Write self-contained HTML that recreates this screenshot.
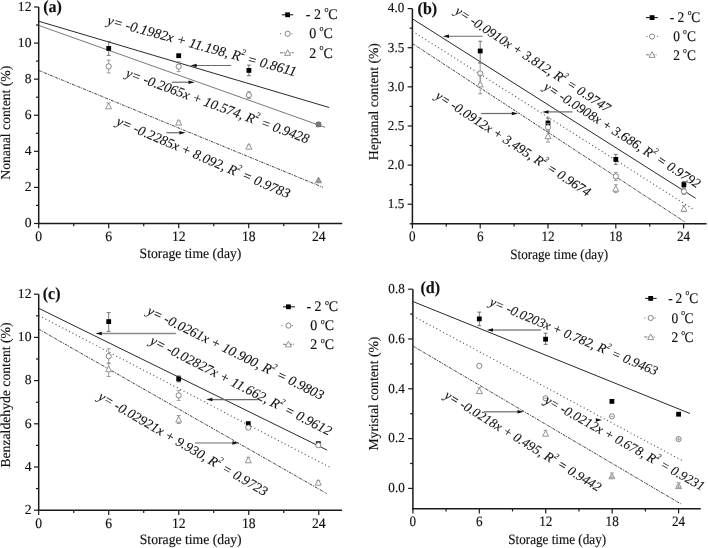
<!DOCTYPE html>
<html><head><meta charset="utf-8"><style>
html,body{margin:0;padding:0;background:#fff;}
body{width:708px;height:548px;overflow:hidden;}
svg{display:block;will-change:transform;}
text{font-family:"Liberation Serif", serif;fill:#111;text-rendering:geometricPrecision;stroke:#111;stroke-width:0.15px;}
.t{font-size:13.7px;}
.pl{font-size:16px;font-weight:bold;}
.eq{font-size:14px;font-style:italic;stroke-width:0.1px;}
.sup{font-size:8.5px;}
.lg{font-size:14px;}
.deg{font-size:9px;}
</style></head><body>
<svg width="708" height="548" viewBox="0 0 708 548">
<rect width="708" height="548" fill="#fff"/>
<line x1="38.7" y1="7" x2="38.7" y2="224.25" stroke="#1a1a1a" stroke-width="1.5"/>
<line x1="37.95" y1="223.5" x2="342.2" y2="223.5" stroke="#1a1a1a" stroke-width="1.5"/>
<line x1="38.7" y1="223.5" x2="38.7" y2="228.25" stroke="#1a1a1a" stroke-width="1.2"/>
<text transform="translate(38.7,241) scale(1.0,1.05)" text-anchor="middle" class="t">0</text>
<line x1="73.71" y1="223.5" x2="73.71" y2="226.25" stroke="#1a1a1a" stroke-width="1.2"/>
<line x1="108.72" y1="223.5" x2="108.72" y2="228.25" stroke="#1a1a1a" stroke-width="1.2"/>
<text transform="translate(108.72,241) scale(1.0,1.05)" text-anchor="middle" class="t">6</text>
<line x1="143.73" y1="223.5" x2="143.73" y2="226.25" stroke="#1a1a1a" stroke-width="1.2"/>
<line x1="178.74" y1="223.5" x2="178.74" y2="228.25" stroke="#1a1a1a" stroke-width="1.2"/>
<text transform="translate(178.74,241) scale(1.0,1.05)" text-anchor="middle" class="t">12</text>
<line x1="213.75" y1="223.5" x2="213.75" y2="226.25" stroke="#1a1a1a" stroke-width="1.2"/>
<line x1="248.76" y1="223.5" x2="248.76" y2="228.25" stroke="#1a1a1a" stroke-width="1.2"/>
<text transform="translate(248.76,241) scale(1.0,1.05)" text-anchor="middle" class="t">18</text>
<line x1="283.77" y1="223.5" x2="283.77" y2="226.25" stroke="#1a1a1a" stroke-width="1.2"/>
<line x1="318.78" y1="223.5" x2="318.78" y2="228.25" stroke="#1a1a1a" stroke-width="1.2"/>
<text transform="translate(318.78,241) scale(1.0,1.05)" text-anchor="middle" class="t">24</text>
<line x1="33.95" y1="223.48" x2="38.7" y2="223.48" stroke="#1a1a1a" stroke-width="1.2"/>
<text transform="translate(31.5,227.28) scale(1.0,1)" text-anchor="end" class="t">0</text>
<line x1="35.95" y1="205.44" x2="38.7" y2="205.44" stroke="#1a1a1a" stroke-width="1.2"/>
<line x1="33.95" y1="187.4" x2="38.7" y2="187.4" stroke="#1a1a1a" stroke-width="1.2"/>
<text transform="translate(31.5,191.2) scale(1.0,1)" text-anchor="end" class="t">2</text>
<line x1="35.95" y1="169.36" x2="38.7" y2="169.36" stroke="#1a1a1a" stroke-width="1.2"/>
<line x1="33.95" y1="151.32" x2="38.7" y2="151.32" stroke="#1a1a1a" stroke-width="1.2"/>
<text transform="translate(31.5,155.12) scale(1.0,1)" text-anchor="end" class="t">4</text>
<line x1="35.95" y1="133.28" x2="38.7" y2="133.28" stroke="#1a1a1a" stroke-width="1.2"/>
<line x1="33.95" y1="115.24" x2="38.7" y2="115.24" stroke="#1a1a1a" stroke-width="1.2"/>
<text transform="translate(31.5,119.04) scale(1.0,1)" text-anchor="end" class="t">6</text>
<line x1="35.95" y1="97.2" x2="38.7" y2="97.2" stroke="#1a1a1a" stroke-width="1.2"/>
<line x1="33.95" y1="79.16" x2="38.7" y2="79.16" stroke="#1a1a1a" stroke-width="1.2"/>
<text transform="translate(31.5,82.96) scale(1.0,1)" text-anchor="end" class="t">8</text>
<line x1="35.95" y1="61.12" x2="38.7" y2="61.12" stroke="#1a1a1a" stroke-width="1.2"/>
<line x1="33.95" y1="43.08" x2="38.7" y2="43.08" stroke="#1a1a1a" stroke-width="1.2"/>
<text transform="translate(31.5,46.88) scale(1.0,1)" text-anchor="end" class="t">10</text>
<line x1="35.95" y1="25.04" x2="38.7" y2="25.04" stroke="#1a1a1a" stroke-width="1.2"/>
<line x1="33.95" y1="7" x2="38.7" y2="7" stroke="#1a1a1a" stroke-width="1.2"/>
<text transform="translate(31.5,10.8) scale(1.0,1)" text-anchor="end" class="t">12</text>
<text transform="translate(190.5,258.2) scale(1.0,1.05)" text-anchor="middle" class="t">Storage time (day)</text>
<text transform="translate(10.1,122.7) rotate(-90)" text-anchor="middle" class="t">Nonanal content (%)</text>
<text transform="translate(43.2,12) scale(1,1.05)" class="pl">(a)</text>
<line x1="412.4" y1="8.6" x2="412.4" y2="224.55" stroke="#1a1a1a" stroke-width="1.5"/>
<line x1="411.65" y1="223.8" x2="706.6" y2="223.8" stroke="#1a1a1a" stroke-width="1.5"/>
<line x1="412.4" y1="223.8" x2="412.4" y2="228.55" stroke="#1a1a1a" stroke-width="1.2"/>
<text transform="translate(412.4,241.3) scale(0.96,1.05)" text-anchor="middle" class="t">0</text>
<line x1="446.3" y1="223.8" x2="446.3" y2="226.55" stroke="#1a1a1a" stroke-width="1.2"/>
<line x1="480.2" y1="223.8" x2="480.2" y2="228.55" stroke="#1a1a1a" stroke-width="1.2"/>
<text transform="translate(480.2,241.3) scale(0.96,1.05)" text-anchor="middle" class="t">6</text>
<line x1="514.1" y1="223.8" x2="514.1" y2="226.55" stroke="#1a1a1a" stroke-width="1.2"/>
<line x1="548" y1="223.8" x2="548" y2="228.55" stroke="#1a1a1a" stroke-width="1.2"/>
<text transform="translate(548,241.3) scale(0.96,1.05)" text-anchor="middle" class="t">12</text>
<line x1="581.9" y1="223.8" x2="581.9" y2="226.55" stroke="#1a1a1a" stroke-width="1.2"/>
<line x1="615.8" y1="223.8" x2="615.8" y2="228.55" stroke="#1a1a1a" stroke-width="1.2"/>
<text transform="translate(615.8,241.3) scale(0.96,1.05)" text-anchor="middle" class="t">18</text>
<line x1="649.7" y1="223.8" x2="649.7" y2="226.55" stroke="#1a1a1a" stroke-width="1.2"/>
<line x1="683.6" y1="223.8" x2="683.6" y2="228.55" stroke="#1a1a1a" stroke-width="1.2"/>
<text transform="translate(683.6,241.3) scale(0.96,1.05)" text-anchor="middle" class="t">24</text>
<line x1="409.65" y1="223.79" x2="412.4" y2="223.79" stroke="#1a1a1a" stroke-width="1.2"/>
<line x1="407.65" y1="204.22" x2="412.4" y2="204.22" stroke="#1a1a1a" stroke-width="1.2"/>
<text transform="translate(404.3,208.03) scale(0.96,1)" text-anchor="end" class="t">1.5</text>
<line x1="409.65" y1="184.66" x2="412.4" y2="184.66" stroke="#1a1a1a" stroke-width="1.2"/>
<line x1="407.65" y1="165.1" x2="412.4" y2="165.1" stroke="#1a1a1a" stroke-width="1.2"/>
<text transform="translate(404.3,168.9) scale(0.96,1)" text-anchor="end" class="t">2.0</text>
<line x1="409.65" y1="145.54" x2="412.4" y2="145.54" stroke="#1a1a1a" stroke-width="1.2"/>
<line x1="407.65" y1="125.97" x2="412.4" y2="125.97" stroke="#1a1a1a" stroke-width="1.2"/>
<text transform="translate(404.3,129.78) scale(0.96,1)" text-anchor="end" class="t">2.5</text>
<line x1="409.65" y1="106.41" x2="412.4" y2="106.41" stroke="#1a1a1a" stroke-width="1.2"/>
<line x1="407.65" y1="86.85" x2="412.4" y2="86.85" stroke="#1a1a1a" stroke-width="1.2"/>
<text transform="translate(404.3,90.65) scale(0.96,1)" text-anchor="end" class="t">3.0</text>
<line x1="409.65" y1="67.29" x2="412.4" y2="67.29" stroke="#1a1a1a" stroke-width="1.2"/>
<line x1="407.65" y1="47.73" x2="412.4" y2="47.73" stroke="#1a1a1a" stroke-width="1.2"/>
<text transform="translate(404.3,51.52) scale(0.96,1)" text-anchor="end" class="t">3.5</text>
<line x1="409.65" y1="28.16" x2="412.4" y2="28.16" stroke="#1a1a1a" stroke-width="1.2"/>
<line x1="407.65" y1="8.6" x2="412.4" y2="8.6" stroke="#1a1a1a" stroke-width="1.2"/>
<text transform="translate(404.3,12.4) scale(0.96,1)" text-anchor="end" class="t">4.0</text>
<text transform="translate(559.2,258.7) scale(0.96,1.05)" text-anchor="middle" class="t">Storage time (day)</text>
<text transform="translate(377.9,101.6) rotate(-90)" text-anchor="middle" class="t">Heptanal content (%)</text>
<text transform="translate(417.6,14.2) scale(1,1.05)" class="pl">(b)</text>
<line x1="38.7" y1="294.2" x2="38.7" y2="510.95" stroke="#1a1a1a" stroke-width="1.5"/>
<line x1="37.95" y1="510.2" x2="342" y2="510.2" stroke="#1a1a1a" stroke-width="1.5"/>
<line x1="38.7" y1="510.2" x2="38.7" y2="514.95" stroke="#1a1a1a" stroke-width="1.2"/>
<text transform="translate(38.7,527.7) scale(1.0,1.05)" text-anchor="middle" class="t">0</text>
<line x1="73.71" y1="510.2" x2="73.71" y2="512.95" stroke="#1a1a1a" stroke-width="1.2"/>
<line x1="108.72" y1="510.2" x2="108.72" y2="514.95" stroke="#1a1a1a" stroke-width="1.2"/>
<text transform="translate(108.72,527.7) scale(1.0,1.05)" text-anchor="middle" class="t">6</text>
<line x1="143.73" y1="510.2" x2="143.73" y2="512.95" stroke="#1a1a1a" stroke-width="1.2"/>
<line x1="178.74" y1="510.2" x2="178.74" y2="514.95" stroke="#1a1a1a" stroke-width="1.2"/>
<text transform="translate(178.74,527.7) scale(1.0,1.05)" text-anchor="middle" class="t">12</text>
<line x1="213.75" y1="510.2" x2="213.75" y2="512.95" stroke="#1a1a1a" stroke-width="1.2"/>
<line x1="248.76" y1="510.2" x2="248.76" y2="514.95" stroke="#1a1a1a" stroke-width="1.2"/>
<text transform="translate(248.76,527.7) scale(1.0,1.05)" text-anchor="middle" class="t">18</text>
<line x1="283.77" y1="510.2" x2="283.77" y2="512.95" stroke="#1a1a1a" stroke-width="1.2"/>
<line x1="318.78" y1="510.2" x2="318.78" y2="514.95" stroke="#1a1a1a" stroke-width="1.2"/>
<text transform="translate(318.78,527.7) scale(1.0,1.05)" text-anchor="middle" class="t">24</text>
<line x1="33.95" y1="510.2" x2="38.7" y2="510.2" stroke="#1a1a1a" stroke-width="1.2"/>
<text transform="translate(31.5,514) scale(1.0,1)" text-anchor="end" class="t">2</text>
<line x1="35.95" y1="488.6" x2="38.7" y2="488.6" stroke="#1a1a1a" stroke-width="1.2"/>
<line x1="33.95" y1="467" x2="38.7" y2="467" stroke="#1a1a1a" stroke-width="1.2"/>
<text transform="translate(31.5,470.8) scale(1.0,1)" text-anchor="end" class="t">4</text>
<line x1="35.95" y1="445.4" x2="38.7" y2="445.4" stroke="#1a1a1a" stroke-width="1.2"/>
<line x1="33.95" y1="423.8" x2="38.7" y2="423.8" stroke="#1a1a1a" stroke-width="1.2"/>
<text transform="translate(31.5,427.6) scale(1.0,1)" text-anchor="end" class="t">6</text>
<line x1="35.95" y1="402.2" x2="38.7" y2="402.2" stroke="#1a1a1a" stroke-width="1.2"/>
<line x1="33.95" y1="380.6" x2="38.7" y2="380.6" stroke="#1a1a1a" stroke-width="1.2"/>
<text transform="translate(31.5,384.4) scale(1.0,1)" text-anchor="end" class="t">8</text>
<line x1="35.95" y1="359" x2="38.7" y2="359" stroke="#1a1a1a" stroke-width="1.2"/>
<line x1="33.95" y1="337.4" x2="38.7" y2="337.4" stroke="#1a1a1a" stroke-width="1.2"/>
<text transform="translate(31.5,341.2) scale(1.0,1)" text-anchor="end" class="t">10</text>
<line x1="35.95" y1="315.8" x2="38.7" y2="315.8" stroke="#1a1a1a" stroke-width="1.2"/>
<line x1="33.95" y1="294.2" x2="38.7" y2="294.2" stroke="#1a1a1a" stroke-width="1.2"/>
<text transform="translate(31.5,298) scale(1.0,1)" text-anchor="end" class="t">12</text>
<text transform="translate(190.7,544.2) scale(1.0,1.05)" text-anchor="middle" class="t">Storage time (day)</text>
<text transform="translate(10.1,395) rotate(-90)" text-anchor="middle" class="t">Benzaldehyde content (%)</text>
<text transform="translate(42.7,298.6) scale(1,1.05)" class="pl">(c)</text>
<line x1="412.9" y1="289.2" x2="412.9" y2="509.45" stroke="#1a1a1a" stroke-width="1.5"/>
<line x1="412.15" y1="508.7" x2="700.8" y2="508.7" stroke="#1a1a1a" stroke-width="1.5"/>
<line x1="412.9" y1="508.7" x2="412.9" y2="513.45" stroke="#1a1a1a" stroke-width="1.2"/>
<text transform="translate(412.9,526.2) scale(0.96,1.05)" text-anchor="middle" class="t">0</text>
<line x1="446.11" y1="508.7" x2="446.11" y2="511.45" stroke="#1a1a1a" stroke-width="1.2"/>
<line x1="479.32" y1="508.7" x2="479.32" y2="513.45" stroke="#1a1a1a" stroke-width="1.2"/>
<text transform="translate(479.32,526.2) scale(0.96,1.05)" text-anchor="middle" class="t">6</text>
<line x1="512.53" y1="508.7" x2="512.53" y2="511.45" stroke="#1a1a1a" stroke-width="1.2"/>
<line x1="545.74" y1="508.7" x2="545.74" y2="513.45" stroke="#1a1a1a" stroke-width="1.2"/>
<text transform="translate(545.74,526.2) scale(0.96,1.05)" text-anchor="middle" class="t">12</text>
<line x1="578.95" y1="508.7" x2="578.95" y2="511.45" stroke="#1a1a1a" stroke-width="1.2"/>
<line x1="612.16" y1="508.7" x2="612.16" y2="513.45" stroke="#1a1a1a" stroke-width="1.2"/>
<text transform="translate(612.16,526.2) scale(0.96,1.05)" text-anchor="middle" class="t">18</text>
<line x1="645.37" y1="508.7" x2="645.37" y2="511.45" stroke="#1a1a1a" stroke-width="1.2"/>
<line x1="678.58" y1="508.7" x2="678.58" y2="513.45" stroke="#1a1a1a" stroke-width="1.2"/>
<text transform="translate(678.58,526.2) scale(0.96,1.05)" text-anchor="middle" class="t">24</text>
<line x1="408.15" y1="488.4" x2="412.9" y2="488.4" stroke="#1a1a1a" stroke-width="1.2"/>
<text transform="translate(404.8,492.2) scale(0.96,1)" text-anchor="end" class="t">0.0</text>
<line x1="410.15" y1="463.5" x2="412.9" y2="463.5" stroke="#1a1a1a" stroke-width="1.2"/>
<line x1="408.15" y1="438.6" x2="412.9" y2="438.6" stroke="#1a1a1a" stroke-width="1.2"/>
<text transform="translate(404.8,442.4) scale(0.96,1)" text-anchor="end" class="t">0.2</text>
<line x1="410.15" y1="413.7" x2="412.9" y2="413.7" stroke="#1a1a1a" stroke-width="1.2"/>
<line x1="408.15" y1="388.8" x2="412.9" y2="388.8" stroke="#1a1a1a" stroke-width="1.2"/>
<text transform="translate(404.8,392.6) scale(0.96,1)" text-anchor="end" class="t">0.4</text>
<line x1="410.15" y1="363.9" x2="412.9" y2="363.9" stroke="#1a1a1a" stroke-width="1.2"/>
<line x1="408.15" y1="339" x2="412.9" y2="339" stroke="#1a1a1a" stroke-width="1.2"/>
<text transform="translate(404.8,342.8) scale(0.96,1)" text-anchor="end" class="t">0.6</text>
<line x1="410.15" y1="314.1" x2="412.9" y2="314.1" stroke="#1a1a1a" stroke-width="1.2"/>
<line x1="408.15" y1="289.2" x2="412.9" y2="289.2" stroke="#1a1a1a" stroke-width="1.2"/>
<text transform="translate(404.8,293) scale(0.96,1)" text-anchor="end" class="t">0.8</text>
<text transform="translate(557.2,544.2) scale(0.96,1.05)" text-anchor="middle" class="t">Storage time (day)</text>
<text transform="translate(378.3,393.6) rotate(-90)" text-anchor="middle" class="t">Myristal content (%)</text>
<text transform="translate(420.4,292.6) scale(1,1.05)" class="pl">(d)</text>
<line x1="38.6" y1="21.2" x2="329.2" y2="107.5" stroke="#1e1e1e" stroke-width="0.95"/>
<line x1="38.7" y1="25.4" x2="325" y2="127.3" stroke="#555" stroke-width="0.8"/>
<line x1="38.7" y1="70.4" x2="322.9" y2="187.3" stroke="#3a3a3a" stroke-width="0.95" stroke-dasharray="3 1 1 1"/>
<line x1="108.7" y1="41.4" x2="108.7" y2="48.4" stroke="#555" stroke-width="0.8"/>
<line x1="106.7" y1="41.4" x2="110.7" y2="41.4" stroke="#555" stroke-width="0.8"/>
<line x1="108.7" y1="48.4" x2="108.7" y2="55.4" stroke="#555" stroke-width="0.8"/>
<line x1="106.7" y1="55.4" x2="110.7" y2="55.4" stroke="#555" stroke-width="0.8"/>
<rect x="106.3" y="46" width="4.8" height="4.8" fill="#000"/>
<rect x="176.3" y="53.3" width="4.8" height="4.8" fill="#000"/>
<line x1="248.9" y1="65.1" x2="248.9" y2="70.4" stroke="#555" stroke-width="0.8"/>
<line x1="246.9" y1="65.1" x2="250.9" y2="65.1" stroke="#555" stroke-width="0.8"/>
<line x1="248.9" y1="70.4" x2="248.9" y2="75.7" stroke="#555" stroke-width="0.8"/>
<line x1="246.9" y1="75.7" x2="250.9" y2="75.7" stroke="#555" stroke-width="0.8"/>
<rect x="246.5" y="68" width="4.8" height="4.8" fill="#000"/>
<rect x="316.1" y="122.2" width="4.8" height="4.8" fill="#000"/>
<line x1="108.7" y1="60.2" x2="108.7" y2="66.4" stroke="#888" stroke-width="0.8"/>
<line x1="106.7" y1="60.2" x2="110.7" y2="60.2" stroke="#888" stroke-width="0.8"/>
<line x1="108.7" y1="66.4" x2="108.7" y2="72.9" stroke="#888" stroke-width="0.8"/>
<line x1="106.7" y1="72.9" x2="110.7" y2="72.9" stroke="#888" stroke-width="0.8"/>
<circle cx="108.7" cy="66.4" r="2.6" fill="#fff" stroke="#777" stroke-width="0.9"/>
<line x1="178.7" y1="61.8" x2="178.7" y2="66.6" stroke="#888" stroke-width="0.8"/>
<line x1="176.7" y1="61.8" x2="180.7" y2="61.8" stroke="#888" stroke-width="0.8"/>
<line x1="178.7" y1="66.6" x2="178.7" y2="71.6" stroke="#888" stroke-width="0.8"/>
<line x1="176.7" y1="71.6" x2="180.7" y2="71.6" stroke="#888" stroke-width="0.8"/>
<circle cx="178.7" cy="66.6" r="2.6" fill="#fff" stroke="#777" stroke-width="0.9"/>
<line x1="248.9" y1="91.7" x2="248.9" y2="95.1" stroke="#888" stroke-width="0.8"/>
<line x1="246.9" y1="91.7" x2="250.9" y2="91.7" stroke="#888" stroke-width="0.8"/>
<line x1="248.9" y1="95.1" x2="248.9" y2="98.4" stroke="#888" stroke-width="0.8"/>
<line x1="246.9" y1="98.4" x2="250.9" y2="98.4" stroke="#888" stroke-width="0.8"/>
<circle cx="248.9" cy="95.1" r="2.6" fill="#fff" stroke="#777" stroke-width="0.9"/>
<circle cx="318.5" cy="124.4" r="2.6" fill="#777" stroke="#777" stroke-width="0.9"/>
<path d="M108.5 103.1L111.5 108.8L105.5 108.8Z" fill="#fff" stroke="#888" stroke-width="0.9"/>
<line x1="106.5" y1="102.9" x2="110.5" y2="102.9" stroke="#888" stroke-width="0.8"/>
<line x1="178.7" y1="121" x2="178.7" y2="122.5" stroke="#888" stroke-width="0.8"/>
<line x1="176.7" y1="121" x2="180.7" y2="121" stroke="#888" stroke-width="0.8"/>
<line x1="178.7" y1="122.5" x2="178.7" y2="124" stroke="#888" stroke-width="0.8"/>
<line x1="176.7" y1="124" x2="180.7" y2="124" stroke="#888" stroke-width="0.8"/>
<path d="M178.7 119.4L181.7 125.1L175.7 125.1Z" fill="#fff" stroke="#888" stroke-width="0.9"/>
<line x1="248.9" y1="145.1" x2="248.9" y2="146.6" stroke="#888" stroke-width="0.8"/>
<line x1="246.9" y1="145.1" x2="250.9" y2="145.1" stroke="#888" stroke-width="0.8"/>
<line x1="248.9" y1="146.6" x2="248.9" y2="148.1" stroke="#888" stroke-width="0.8"/>
<line x1="246.9" y1="148.1" x2="250.9" y2="148.1" stroke="#888" stroke-width="0.8"/>
<path d="M248.9 143.5L251.9 149.2L245.9 149.2Z" fill="#fff" stroke="#888" stroke-width="0.9"/>
<path d="M318.5 177.1L321.5 182.8L315.5 182.8Z" fill="#999" stroke="#888" stroke-width="0.9"/>
<text transform="translate(106.41,24.27) rotate(15.41)" class="eq" style="font-size:13.97px">y= -0.1982x + 11.198, R<tspan style="font-size:8.38px" dy="-6.98">2</tspan><tspan dy="6.98"> = 0.8611</tspan></text>
<text transform="translate(124.89,76.59) rotate(20.16)" class="eq" style="font-size:13.73px">y= -0.2065x + 10.574, R<tspan style="font-size:8.24px" dy="-6.87">2</tspan><tspan dy="6.87"> = 0.9428</tspan></text>
<text transform="translate(115.4,124.45) rotate(23.26)" class="eq" style="font-size:13.74px">y= -0.2285x + 8.092, R<tspan style="font-size:8.24px" dy="-6.87">2</tspan><tspan dy="6.87"> = 0.9783</tspan></text>
<line x1="231.2" y1="65.5" x2="195.7" y2="65.5" stroke="#6a6a6a" stroke-width="1.2"/>
<path d="M190.5 65.5L196.7 63.75L196.7 67.25Z" fill="#111"/>
<line x1="171.9" y1="82.2" x2="189.5" y2="82.2" stroke="#6a6a6a" stroke-width="1.2"/>
<path d="M194.7 82.2L188.5 80.45L188.5 83.95Z" fill="#111"/>
<line x1="166.4" y1="132.7" x2="180.4" y2="132.7" stroke="#6a6a6a" stroke-width="1.2"/>
<path d="M185.6 132.7L179.4 130.95L179.4 134.45Z" fill="#111"/>
<line x1="281.9" y1="14.8" x2="293.2" y2="14.8" stroke="#222" stroke-width="1.1"/>
<rect x="285.2" y="12.4" width="4.8" height="4.8" fill="#000"/>
<text transform="translate(305.68,18.85) scale(1.0,1.05)" style="font-size:14px">-</text>
<text transform="translate(313.9,18.85) scale(1.0,1.05)" style="font-size:14px">2</text>
<text transform="translate(324.5,11.86) scale(1.0,1.05)" style="font-size:8px">o</text>
<text transform="translate(328.13,18.85) scale(1.0,1.05)" style="font-size:14px">C</text>
<rect x="279.95" y="33.25" width="1.1" height="1.1" fill="#777"/>
<rect x="291.45" y="33.25" width="1.1" height="1.1" fill="#777"/>
<circle cx="287.6" cy="33.8" r="2.6" fill="#fff" stroke="#777" stroke-width="0.9"/>
<text transform="translate(309.14,38.35) scale(1.0,1.05)" style="font-size:14px">0</text>
<text transform="translate(319.5,31.46) scale(1.0,1.05)" style="font-size:8px">o</text>
<text transform="translate(323.43,38.35) scale(1.0,1.05)" style="font-size:14px">C</text>
<line x1="280" y1="52.8" x2="293.9" y2="52.8" stroke="#666" stroke-width="0.9" stroke-dasharray="3.2 0.9 0.9 0.9"/>
<path d="M287.6 49.7L290.6 55.4L284.6 55.4Z" fill="#fff" stroke="#888" stroke-width="0.9"/>
<text transform="translate(309.14,57.95) scale(1.0,1.05)" style="font-size:14px">2</text>
<text transform="translate(319.5,50.46) scale(1.0,1.05)" style="font-size:8px">o</text>
<text transform="translate(323.43,57.95) scale(1.0,1.05)" style="font-size:14px">C</text>
<line x1="412.4" y1="18.8" x2="695.7" y2="198.3" stroke="#1e1e1e" stroke-width="0.95"/>
<line x1="412.4" y1="31.2" x2="694.3" y2="210" stroke="#555" stroke-width="1.1" stroke-dasharray="1.1 2.7"/>
<line x1="412.4" y1="43.5" x2="684.7" y2="221.8" stroke="#3a3a3a" stroke-width="0.95" stroke-dasharray="3 1 1 1"/>
<line x1="480.2" y1="41.2" x2="480.2" y2="51" stroke="#555" stroke-width="0.8"/>
<line x1="478.2" y1="41.2" x2="482.2" y2="41.2" stroke="#555" stroke-width="0.8"/>
<line x1="480.2" y1="51" x2="480.2" y2="63" stroke="#555" stroke-width="0.8"/>
<line x1="478.2" y1="63" x2="482.2" y2="63" stroke="#555" stroke-width="0.8"/>
<rect x="477.8" y="48.6" width="4.8" height="4.8" fill="#000"/>
<line x1="480.2" y1="62.9" x2="480.2" y2="73.4" stroke="#888" stroke-width="0.8"/>
<line x1="478.2" y1="62.9" x2="482.2" y2="62.9" stroke="#888" stroke-width="0.8"/>
<line x1="480.2" y1="73.4" x2="480.2" y2="83.4" stroke="#888" stroke-width="0.8"/>
<line x1="478.2" y1="83.4" x2="482.2" y2="83.4" stroke="#888" stroke-width="0.8"/>
<circle cx="480.2" cy="73.4" r="2.6" fill="#fff" stroke="#777" stroke-width="0.9"/>
<line x1="480.2" y1="75.3" x2="480.2" y2="84.3" stroke="#888" stroke-width="0.8"/>
<line x1="478.2" y1="75.3" x2="482.2" y2="75.3" stroke="#888" stroke-width="0.8"/>
<line x1="480.2" y1="84.3" x2="480.2" y2="93.8" stroke="#888" stroke-width="0.8"/>
<line x1="478.2" y1="93.8" x2="482.2" y2="93.8" stroke="#888" stroke-width="0.8"/>
<path d="M480.2 81.2L483.2 86.9L477.2 86.9Z" fill="#fff" stroke="#888" stroke-width="0.9"/>
<line x1="548" y1="118" x2="548" y2="123" stroke="#555" stroke-width="0.8"/>
<line x1="546" y1="118" x2="550" y2="118" stroke="#555" stroke-width="0.8"/>
<line x1="548" y1="123" x2="548" y2="127" stroke="#555" stroke-width="0.8"/>
<line x1="546" y1="127" x2="550" y2="127" stroke="#555" stroke-width="0.8"/>
<rect x="545.6" y="120.6" width="4.8" height="4.8" fill="#000"/>
<line x1="548" y1="123.4" x2="548" y2="127.4" stroke="#888" stroke-width="0.8"/>
<line x1="546" y1="123.4" x2="550" y2="123.4" stroke="#888" stroke-width="0.8"/>
<line x1="548" y1="127.4" x2="548" y2="131.4" stroke="#888" stroke-width="0.8"/>
<line x1="546" y1="131.4" x2="550" y2="131.4" stroke="#888" stroke-width="0.8"/>
<circle cx="548" cy="127.4" r="2.6" fill="#fff" stroke="#777" stroke-width="0.9"/>
<line x1="548" y1="131.1" x2="548" y2="136.1" stroke="#888" stroke-width="0.8"/>
<line x1="546" y1="131.1" x2="550" y2="131.1" stroke="#888" stroke-width="0.8"/>
<line x1="548" y1="136.1" x2="548" y2="142.1" stroke="#888" stroke-width="0.8"/>
<line x1="546" y1="142.1" x2="550" y2="142.1" stroke="#888" stroke-width="0.8"/>
<path d="M548 133L551 138.7L545 138.7Z" fill="#fff" stroke="#888" stroke-width="0.9"/>
<line x1="615.8" y1="154.4" x2="615.8" y2="159.4" stroke="#555" stroke-width="0.8"/>
<line x1="613.8" y1="154.4" x2="617.8" y2="154.4" stroke="#555" stroke-width="0.8"/>
<line x1="615.8" y1="159.4" x2="615.8" y2="164.4" stroke="#555" stroke-width="0.8"/>
<line x1="613.8" y1="164.4" x2="617.8" y2="164.4" stroke="#555" stroke-width="0.8"/>
<rect x="613.4" y="157" width="4.8" height="4.8" fill="#000"/>
<line x1="615.8" y1="172.4" x2="615.8" y2="176.4" stroke="#888" stroke-width="0.8"/>
<line x1="613.8" y1="172.4" x2="617.8" y2="172.4" stroke="#888" stroke-width="0.8"/>
<line x1="615.8" y1="176.4" x2="615.8" y2="180.4" stroke="#888" stroke-width="0.8"/>
<line x1="613.8" y1="180.4" x2="617.8" y2="180.4" stroke="#888" stroke-width="0.8"/>
<circle cx="615.8" cy="176.4" r="2.6" fill="#fff" stroke="#777" stroke-width="0.9"/>
<line x1="615.8" y1="184.7" x2="615.8" y2="188.7" stroke="#888" stroke-width="0.8"/>
<line x1="613.8" y1="184.7" x2="617.8" y2="184.7" stroke="#888" stroke-width="0.8"/>
<line x1="615.8" y1="188.7" x2="615.8" y2="192.7" stroke="#888" stroke-width="0.8"/>
<line x1="613.8" y1="192.7" x2="617.8" y2="192.7" stroke="#888" stroke-width="0.8"/>
<path d="M615.8 185.6L618.8 191.3L612.8 191.3Z" fill="#fff" stroke="#888" stroke-width="0.9"/>
<line x1="683.9" y1="181.6" x2="683.9" y2="184.6" stroke="#555" stroke-width="0.8"/>
<line x1="681.9" y1="181.6" x2="685.9" y2="181.6" stroke="#555" stroke-width="0.8"/>
<line x1="683.9" y1="184.6" x2="683.9" y2="187.6" stroke="#555" stroke-width="0.8"/>
<line x1="681.9" y1="187.6" x2="685.9" y2="187.6" stroke="#555" stroke-width="0.8"/>
<rect x="681.5" y="182.2" width="4.8" height="4.8" fill="#000"/>
<line x1="683.9" y1="188.4" x2="683.9" y2="191.4" stroke="#888" stroke-width="0.8"/>
<line x1="681.9" y1="188.4" x2="685.9" y2="188.4" stroke="#888" stroke-width="0.8"/>
<line x1="683.9" y1="191.4" x2="683.9" y2="194.4" stroke="#888" stroke-width="0.8"/>
<line x1="681.9" y1="194.4" x2="685.9" y2="194.4" stroke="#888" stroke-width="0.8"/>
<circle cx="683.9" cy="191.4" r="2.6" fill="#fff" stroke="#777" stroke-width="0.9"/>
<line x1="683.9" y1="205.7" x2="683.9" y2="208.7" stroke="#888" stroke-width="0.8"/>
<line x1="681.9" y1="205.7" x2="685.9" y2="205.7" stroke="#888" stroke-width="0.8"/>
<line x1="683.9" y1="208.7" x2="683.9" y2="211.7" stroke="#888" stroke-width="0.8"/>
<line x1="681.9" y1="211.7" x2="685.9" y2="211.7" stroke="#888" stroke-width="0.8"/>
<path d="M683.9 205.6L686.9 211.3L680.9 211.3Z" fill="#fff" stroke="#888" stroke-width="0.9"/>
<text transform="translate(453.92,13.08) rotate(33.14)" class="eq" style="font-size:13.39px">y= -0.0910x + 3.812, R<tspan style="font-size:8.03px" dy="-6.69">2</tspan><tspan dy="6.69"> = 0.9747</tspan></text>
<text transform="translate(542.86,88.84) rotate(32.9)" class="eq" style="font-size:13.45px">y= -0.0908x + 3.686, R<tspan style="font-size:8.07px" dy="-6.73">2</tspan><tspan dy="6.73"> = 0.9792</tspan></text>
<text transform="translate(434.4,97.68) rotate(33.01)" class="eq" style="font-size:13.34px">y= -0.0912x + 3.495, R<tspan style="font-size:8.00px" dy="-6.67">2</tspan><tspan dy="6.67"> = 0.9674</tspan></text>
<line x1="482.6" y1="36.25" x2="448" y2="36.25" stroke="#6a6a6a" stroke-width="1.2"/>
<path d="M442.8 36.25L449 34.5L449 38Z" fill="#111"/>
<line x1="481.2" y1="113.5" x2="512.8" y2="113.5" stroke="#6a6a6a" stroke-width="1.2"/>
<path d="M518 113.5L511.8 111.75L511.8 115.25Z" fill="#111"/>
<line x1="572.4" y1="111.9" x2="547.5" y2="111.9" stroke="#6a6a6a" stroke-width="1.2"/>
<path d="M542.3 111.9L548.5 110.15L548.5 113.65Z" fill="#111"/>
<line x1="646" y1="17.6" x2="657.8" y2="17.6" stroke="#222" stroke-width="1.1"/>
<rect x="649.7" y="15.2" width="4.8" height="4.8" fill="#000"/>
<text transform="translate(669.8,21.75) scale(0.96,1.05)" style="font-size:14px">-</text>
<text transform="translate(677.42,21.75) scale(0.96,1.05)" style="font-size:14px">2</text>
<text transform="translate(687.81,14.86) scale(0.96,1.05)" style="font-size:8px">o</text>
<text transform="translate(691.35,21.75) scale(0.96,1.05)" style="font-size:14px">C</text>
<rect x="646.55" y="35.95" width="1.1" height="1.1" fill="#777"/>
<rect x="657.05" y="35.95" width="1.1" height="1.1" fill="#777"/>
<circle cx="652.1" cy="36.5" r="2.6" fill="#fff" stroke="#777" stroke-width="0.9"/>
<text transform="translate(673.26,40.75) scale(0.96,1.05)" style="font-size:14px">0</text>
<text transform="translate(683.01,34.36) scale(0.96,1.05)" style="font-size:8px">o</text>
<text transform="translate(686.95,40.75) scale(0.96,1.05)" style="font-size:14px">C</text>
<line x1="646" y1="54.8" x2="656.6" y2="54.8" stroke="#666" stroke-width="0.9" stroke-dasharray="3.2 0.9 0.9 0.9"/>
<path d="M652.1 51.7L655.1 57.4L649.1 57.4Z" fill="#fff" stroke="#888" stroke-width="0.9"/>
<text transform="translate(673.26,59.75) scale(0.96,1.05)" style="font-size:14px">2</text>
<text transform="translate(683.01,53.36) scale(0.96,1.05)" style="font-size:8px">o</text>
<text transform="translate(686.95,59.75) scale(0.96,1.05)" style="font-size:14px">C</text>
<line x1="38.7" y1="308.3" x2="327.1" y2="450.1" stroke="#1e1e1e" stroke-width="0.95"/>
<line x1="38.7" y1="315.5" x2="329.4" y2="467.1" stroke="#555" stroke-width="1.1" stroke-dasharray="1.1 2.7"/>
<line x1="38.7" y1="329.1" x2="326.5" y2="493.4" stroke="#3a3a3a" stroke-width="0.95" stroke-dasharray="3 1 1 1"/>
<line x1="108.7" y1="312.6" x2="108.7" y2="321.6" stroke="#555" stroke-width="0.8"/>
<line x1="106.7" y1="312.6" x2="110.7" y2="312.6" stroke="#555" stroke-width="0.8"/>
<line x1="108.7" y1="321.6" x2="108.7" y2="331.3" stroke="#555" stroke-width="0.8"/>
<line x1="106.7" y1="331.3" x2="110.7" y2="331.3" stroke="#555" stroke-width="0.8"/>
<rect x="106.3" y="319.2" width="4.8" height="4.8" fill="#000"/>
<line x1="108.7" y1="348.7" x2="108.7" y2="356.2" stroke="#888" stroke-width="0.8"/>
<line x1="106.7" y1="348.7" x2="110.7" y2="348.7" stroke="#888" stroke-width="0.8"/>
<line x1="108.7" y1="356.2" x2="108.7" y2="363.2" stroke="#888" stroke-width="0.8"/>
<line x1="106.7" y1="363.2" x2="110.7" y2="363.2" stroke="#888" stroke-width="0.8"/>
<circle cx="108.7" cy="356.2" r="2.6" fill="#fff" stroke="#777" stroke-width="0.9"/>
<line x1="108.7" y1="363.1" x2="108.7" y2="369.1" stroke="#888" stroke-width="0.8"/>
<line x1="106.7" y1="363.1" x2="110.7" y2="363.1" stroke="#888" stroke-width="0.8"/>
<line x1="108.7" y1="369.1" x2="108.7" y2="376.5" stroke="#888" stroke-width="0.8"/>
<line x1="106.7" y1="376.5" x2="110.7" y2="376.5" stroke="#888" stroke-width="0.8"/>
<path d="M108.7 366L111.7 371.7L105.7 371.7Z" fill="#fff" stroke="#888" stroke-width="0.9"/>
<line x1="178.7" y1="375.9" x2="178.7" y2="378.9" stroke="#555" stroke-width="0.8"/>
<line x1="176.7" y1="375.9" x2="180.7" y2="375.9" stroke="#555" stroke-width="0.8"/>
<line x1="178.7" y1="378.9" x2="178.7" y2="381.9" stroke="#555" stroke-width="0.8"/>
<line x1="176.7" y1="381.9" x2="180.7" y2="381.9" stroke="#555" stroke-width="0.8"/>
<rect x="176.3" y="376.5" width="4.8" height="4.8" fill="#000"/>
<line x1="178.7" y1="390.4" x2="178.7" y2="395.4" stroke="#888" stroke-width="0.8"/>
<line x1="176.7" y1="390.4" x2="180.7" y2="390.4" stroke="#888" stroke-width="0.8"/>
<line x1="178.7" y1="395.4" x2="178.7" y2="400.4" stroke="#888" stroke-width="0.8"/>
<line x1="176.7" y1="400.4" x2="180.7" y2="400.4" stroke="#888" stroke-width="0.8"/>
<circle cx="178.7" cy="395.4" r="2.6" fill="#fff" stroke="#777" stroke-width="0.9"/>
<line x1="178.7" y1="415.5" x2="178.7" y2="419.5" stroke="#888" stroke-width="0.8"/>
<line x1="176.7" y1="415.5" x2="180.7" y2="415.5" stroke="#888" stroke-width="0.8"/>
<line x1="178.7" y1="419.5" x2="178.7" y2="423.5" stroke="#888" stroke-width="0.8"/>
<line x1="176.7" y1="423.5" x2="180.7" y2="423.5" stroke="#888" stroke-width="0.8"/>
<path d="M178.7 416.4L181.7 422.1L175.7 422.1Z" fill="#fff" stroke="#888" stroke-width="0.9"/>
<line x1="248.3" y1="421.8" x2="248.3" y2="423.8" stroke="#555" stroke-width="0.8"/>
<line x1="246.3" y1="421.8" x2="250.3" y2="421.8" stroke="#555" stroke-width="0.8"/>
<line x1="248.3" y1="423.8" x2="248.3" y2="425.8" stroke="#555" stroke-width="0.8"/>
<line x1="246.3" y1="425.8" x2="250.3" y2="425.8" stroke="#555" stroke-width="0.8"/>
<rect x="245.9" y="421.4" width="4.8" height="4.8" fill="#000"/>
<line x1="248.3" y1="425.6" x2="248.3" y2="427.6" stroke="#888" stroke-width="0.8"/>
<line x1="246.3" y1="425.6" x2="250.3" y2="425.6" stroke="#888" stroke-width="0.8"/>
<line x1="248.3" y1="427.6" x2="248.3" y2="429.6" stroke="#888" stroke-width="0.8"/>
<line x1="246.3" y1="429.6" x2="250.3" y2="429.6" stroke="#888" stroke-width="0.8"/>
<circle cx="248.3" cy="427.6" r="2.6" fill="#fff" stroke="#777" stroke-width="0.9"/>
<line x1="248.3" y1="457.2" x2="248.3" y2="460.2" stroke="#888" stroke-width="0.8"/>
<line x1="246.3" y1="457.2" x2="250.3" y2="457.2" stroke="#888" stroke-width="0.8"/>
<line x1="248.3" y1="460.2" x2="248.3" y2="462.2" stroke="#888" stroke-width="0.8"/>
<line x1="246.3" y1="462.2" x2="250.3" y2="462.2" stroke="#888" stroke-width="0.8"/>
<path d="M248.3 457.1L251.3 462.8L245.3 462.8Z" fill="#fff" stroke="#888" stroke-width="0.9"/>
<line x1="318.3" y1="442.7" x2="318.3" y2="443.7" stroke="#555" stroke-width="0.8"/>
<line x1="316.3" y1="442.7" x2="320.3" y2="442.7" stroke="#555" stroke-width="0.8"/>
<line x1="318.3" y1="443.7" x2="318.3" y2="444.7" stroke="#555" stroke-width="0.8"/>
<line x1="316.3" y1="444.7" x2="320.3" y2="444.7" stroke="#555" stroke-width="0.8"/>
<rect x="315.9" y="441.3" width="4.8" height="4.8" fill="#000"/>
<line x1="318.3" y1="444.2" x2="318.3" y2="445.2" stroke="#888" stroke-width="0.8"/>
<line x1="316.3" y1="444.2" x2="320.3" y2="444.2" stroke="#888" stroke-width="0.8"/>
<line x1="318.3" y1="445.2" x2="318.3" y2="446.2" stroke="#888" stroke-width="0.8"/>
<line x1="316.3" y1="446.2" x2="320.3" y2="446.2" stroke="#888" stroke-width="0.8"/>
<circle cx="318.3" cy="445.2" r="2.6" fill="#fff" stroke="#777" stroke-width="0.9"/>
<line x1="318.3" y1="480.6" x2="318.3" y2="482.6" stroke="#888" stroke-width="0.8"/>
<line x1="316.3" y1="480.6" x2="320.3" y2="480.6" stroke="#888" stroke-width="0.8"/>
<line x1="318.3" y1="482.6" x2="318.3" y2="484.6" stroke="#888" stroke-width="0.8"/>
<line x1="316.3" y1="484.6" x2="320.3" y2="484.6" stroke="#888" stroke-width="0.8"/>
<path d="M318.3 479.5L321.3 485.2L315.3 485.2Z" fill="#fff" stroke="#888" stroke-width="0.9"/>
<text transform="translate(146.16,313.75) rotate(26.25)" class="eq" style="font-size:13.79px">y= -0.0261x + 10.900, R<tspan style="font-size:8.28px" dy="-6.90">2</tspan><tspan dy="6.90"> = 0.9803</tspan></text>
<text transform="translate(148.92,343.46) rotate(27.2)" class="eq" style="font-size:13.89px">y= -0.02827x + 11.662, R<tspan style="font-size:8.33px" dy="-6.94">2</tspan><tspan dy="6.94"> = 0.9612</tspan></text>
<text transform="translate(97.17,398.94) rotate(30.21)" class="eq" style="font-size:13.68px">y= -0.02921x + 9.930, R<tspan style="font-size:8.21px" dy="-6.84">2</tspan><tspan dy="6.84"> = 0.9723</tspan></text>
<line x1="175.9" y1="333.6" x2="100.8" y2="333.6" stroke="#8a8a8a" stroke-width="1.5"/>
<path d="M95.6 333.6L101.8 331.85L101.8 335.35Z" fill="#111"/>
<line x1="257.9" y1="399.6" x2="211.4" y2="399.6" stroke="#6a6a6a" stroke-width="1.2"/>
<path d="M206.2 399.6L212.4 397.85L212.4 401.35Z" fill="#111"/>
<line x1="195.1" y1="443" x2="233.4" y2="443" stroke="#6a6a6a" stroke-width="1.2"/>
<path d="M238.6 443L232.4 441.25L232.4 444.75Z" fill="#111"/>
<line x1="283" y1="306.8" x2="294.9" y2="306.8" stroke="#222" stroke-width="1.1"/>
<rect x="286" y="304.4" width="4.8" height="4.8" fill="#000"/>
<text transform="translate(306.48,311.25) scale(1.0,1.05)" style="font-size:14px">-</text>
<text transform="translate(314.5,311.25) scale(1.0,1.05)" style="font-size:14px">2</text>
<text transform="translate(324.9,304.56) scale(1.0,1.05)" style="font-size:8px">o</text>
<text transform="translate(328.73,311.25) scale(1.0,1.05)" style="font-size:14px">C</text>
<rect x="281.35" y="325.05" width="1.1" height="1.1" fill="#777"/>
<rect x="291.95" y="325.05" width="1.1" height="1.1" fill="#777"/>
<circle cx="288.4" cy="325.6" r="2.6" fill="#fff" stroke="#777" stroke-width="0.9"/>
<text transform="translate(310.34,330.15) scale(1.0,1.05)" style="font-size:14px">0</text>
<text transform="translate(320.7,323.56) scale(1.0,1.05)" style="font-size:8px">o</text>
<text transform="translate(324.63,330.15) scale(1.0,1.05)" style="font-size:14px">C</text>
<line x1="283" y1="344.3" x2="294.9" y2="344.3" stroke="#666" stroke-width="0.9" stroke-dasharray="3.2 0.9 0.9 0.9"/>
<path d="M288.4 341.2L291.4 346.9L285.4 346.9Z" fill="#fff" stroke="#888" stroke-width="0.9"/>
<text transform="translate(310.34,349.15) scale(1.0,1.05)" style="font-size:14px">2</text>
<text transform="translate(320.7,342.76) scale(1.0,1.05)" style="font-size:8px">o</text>
<text transform="translate(324.63,349.15) scale(1.0,1.05)" style="font-size:14px">C</text>
<line x1="412.9" y1="301.5" x2="690" y2="413.5" stroke="#1e1e1e" stroke-width="0.95"/>
<line x1="412.9" y1="316" x2="682.9" y2="461" stroke="#555" stroke-width="1.1" stroke-dasharray="1.1 2.7"/>
<line x1="412.9" y1="346" x2="680.7" y2="503.8" stroke="#3a3a3a" stroke-width="0.95" stroke-dasharray="3 1 1 1"/>
<line x1="479.3" y1="312.1" x2="479.3" y2="318.9" stroke="#555" stroke-width="0.8"/>
<line x1="477.3" y1="312.1" x2="481.3" y2="312.1" stroke="#555" stroke-width="0.8"/>
<line x1="479.3" y1="318.9" x2="479.3" y2="325.7" stroke="#555" stroke-width="0.8"/>
<line x1="477.3" y1="325.7" x2="481.3" y2="325.7" stroke="#555" stroke-width="0.8"/>
<rect x="476.9" y="316.5" width="4.8" height="4.8" fill="#000"/>
<circle cx="479.3" cy="365.9" r="2.6" fill="#fff" stroke="#777" stroke-width="0.9"/>
<path d="M479.3 387.9L482.3 393.6L476.3 393.6Z" fill="#fff" stroke="#888" stroke-width="0.9"/>
<line x1="477.3" y1="387.7" x2="481.3" y2="387.7" stroke="#888" stroke-width="0.8"/>
<line x1="545.6" y1="333.2" x2="545.6" y2="339.2" stroke="#555" stroke-width="0.8"/>
<line x1="543.6" y1="333.2" x2="547.6" y2="333.2" stroke="#555" stroke-width="0.8"/>
<line x1="545.6" y1="339.2" x2="545.6" y2="344.4" stroke="#555" stroke-width="0.8"/>
<line x1="543.6" y1="344.4" x2="547.6" y2="344.4" stroke="#555" stroke-width="0.8"/>
<rect x="543.2" y="336.8" width="4.8" height="4.8" fill="#000"/>
<circle cx="545.6" cy="398.3" r="2.6" fill="#fff" stroke="#777" stroke-width="0.9"/>
<line x1="544" y1="398.3" x2="547.2" y2="398.3" stroke="#888" stroke-width="0.8"/>
<path d="M545.6 430.5L548.6 436.2L542.6 436.2Z" fill="#fff" stroke="#888" stroke-width="0.9"/>
<line x1="543.6" y1="430.3" x2="547.6" y2="430.3" stroke="#888" stroke-width="0.8"/>
<rect x="609.5" y="399" width="4.8" height="4.8" fill="#000"/>
<circle cx="611.9" cy="416.4" r="2.6" fill="#fff" stroke="#777" stroke-width="0.9"/>
<line x1="610.3" y1="416.4" x2="613.5" y2="416.4" stroke="#888" stroke-width="0.8"/>
<path d="M611.9 473.1L614.9 478.8L608.9 478.8Z" fill="#fff" stroke="#888" stroke-width="0.9"/>
<line x1="611.9" y1="474.4" x2="611.9" y2="478" stroke="#888" stroke-width="0.8"/>
<line x1="609.9" y1="472.9" x2="613.9" y2="472.9" stroke="#888" stroke-width="0.8"/>
<line x1="609.9" y1="477.4" x2="613.9" y2="477.4" stroke="#888" stroke-width="0.8"/>
<rect x="676.2" y="411.8" width="4.8" height="4.8" fill="#000"/>
<circle cx="678.6" cy="439.1" r="2.6" fill="#fff" stroke="#777" stroke-width="0.9"/>
<line x1="677" y1="439.1" x2="680.2" y2="439.1" stroke="#888" stroke-width="0.8"/>
<line x1="678.6" y1="437.3" x2="678.6" y2="440.9" stroke="#888" stroke-width="0.8"/>
<path d="M678.6 482.9L681.6 488.6L675.6 488.6Z" fill="#fff" stroke="#888" stroke-width="0.9"/>
<line x1="678.6" y1="484.2" x2="678.6" y2="487.8" stroke="#888" stroke-width="0.8"/>
<line x1="676.6" y1="482.7" x2="680.6" y2="482.7" stroke="#888" stroke-width="0.8"/>
<line x1="676.6" y1="487.2" x2="680.6" y2="487.2" stroke="#888" stroke-width="0.8"/>
<text transform="translate(488.67,305) rotate(22.95)" class="eq" style="font-size:13.27px">y= -0.0203x + 0.782, R<tspan style="font-size:7.96px" dy="-6.63">2</tspan><tspan dy="6.63"> = 0.9463</tspan></text>
<text transform="translate(543.69,402.66) rotate(29.21)" class="eq" style="font-size:13.26px">y= -0.0212x + 0.678, R<tspan style="font-size:7.96px" dy="-6.63">2</tspan><tspan dy="6.63"> = 0.9231</tspan></text>
<text transform="translate(443.56,397.61) rotate(31.45)" class="eq" style="font-size:13.26px">y= -0.0218x + 0.495, R<tspan style="font-size:7.95px" dy="-6.63">2</tspan><tspan dy="6.63"> = 0.9442</tspan></text>
<line x1="541.1" y1="329.9" x2="492" y2="329.9" stroke="#8a8a8a" stroke-width="1.5"/>
<path d="M486.8 329.9L493 328.15L493 331.65Z" fill="#111"/>
<line x1="483.7" y1="411.8" x2="518.5" y2="411.8" stroke="#8a8a8a" stroke-width="1.5"/>
<path d="M523.7 411.8L517.5 410.05L517.5 413.55Z" fill="#111"/>
<line x1="596.5" y1="420" x2="596.8" y2="420" stroke="#6a6a6a" stroke-width="1.2"/>
<path d="M602 420L595.8 418.25L595.8 421.75Z" fill="#111"/>
<line x1="645.1" y1="298.4" x2="656.6" y2="298.4" stroke="#222" stroke-width="1.1"/>
<rect x="648.3" y="296" width="4.8" height="4.8" fill="#000"/>
<text transform="translate(668.3,302.65) scale(0.96,1.05)" style="font-size:14px">-</text>
<text transform="translate(675.42,302.65) scale(0.96,1.05)" style="font-size:14px">2</text>
<text transform="translate(685.61,295.46) scale(0.96,1.05)" style="font-size:8px">o</text>
<text transform="translate(689.25,302.65) scale(0.96,1.05)" style="font-size:14px">C</text>
<rect x="644.25" y="317.45" width="1.1" height="1.1" fill="#777"/>
<rect x="654.55" y="317.45" width="1.1" height="1.1" fill="#777"/>
<circle cx="650.7" cy="318" r="2.6" fill="#fff" stroke="#777" stroke-width="0.9"/>
<text transform="translate(671.46,322.55) scale(0.96,1.05)" style="font-size:14px">0</text>
<text transform="translate(681.21,315.26) scale(0.96,1.05)" style="font-size:8px">o</text>
<text transform="translate(684.55,322.55) scale(0.96,1.05)" style="font-size:14px">C</text>
<line x1="644.2" y1="337" x2="655.1" y2="337" stroke="#666" stroke-width="0.9" stroke-dasharray="3.2 0.9 0.9 0.9"/>
<path d="M650.7 333.9L653.7 339.6L647.7 339.6Z" fill="#fff" stroke="#888" stroke-width="0.9"/>
<text transform="translate(671.46,342.15) scale(0.96,1.05)" style="font-size:14px">2</text>
<text transform="translate(681.21,334.56) scale(0.96,1.05)" style="font-size:8px">o</text>
<text transform="translate(684.55,342.15) scale(0.96,1.05)" style="font-size:14px">C</text>
</svg>
</body></html>
